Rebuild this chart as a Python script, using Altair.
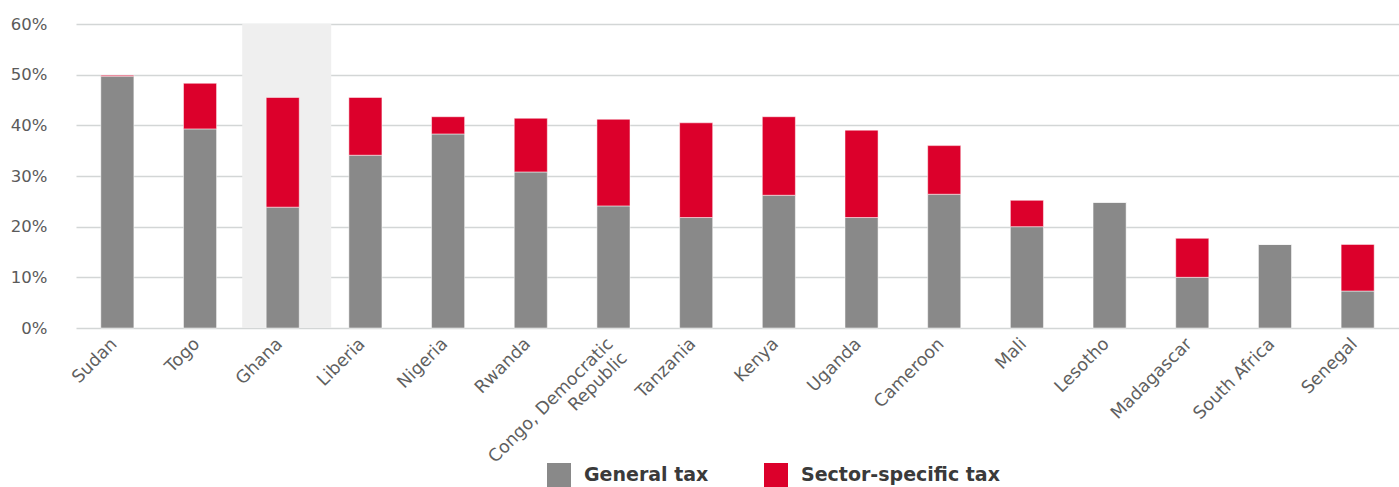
import altair as alt
import pandas as pd

countries = ["Sudan", "Togo", "Ghana", "Liberia", "Nigeria", "Rwanda",
             "Congo, Democratic Republic", "Tanzania", "Kenya", "Uganda",
             "Cameroon", "Mali", "Lesotho", "Madagascar", "South Africa", "Senegal"]
general_tax = [49.7, 39.3, 23.85, 34.1, 38.3, 30.8, 24.1, 21.8, 26.2, 21.8,
               26.4, 20.0, 24.8, 10.0, 16.5, 7.3]
sector_tax = [0.2, 9.0, 21.65, 11.4, 3.4, 10.6, 17.1, 18.7, 15.5, 17.25,
              9.6, 5.2, 0.0, 7.7, 0.0, 9.2]
series = ["General tax", "Sector-specific tax"]
colors = ["#898989", "#DC002B"]
highlight = ["Ghana"]

rows = []
for c, g, s in zip(countries, general_tax, sector_tax):
    rows.append({"country": c, "series": series[0], "value": g, "ord": 0})
    rows.append({"country": c, "series": series[1], "value": s, "ord": 1})
df = pd.DataFrame(rows)
hl = pd.DataFrame({"country": highlight, "top": [60], "bottom": [0]})

FONT = "DejaVu Sans"

x_enc = alt.X("country:N", sort=countries, title=None,
              scale=alt.Scale(paddingInner=0.6, paddingOuter=0.3),
              axis=alt.Axis(labelAngle=-45, labelAlign="right", labelBaseline="middle",
                            labelFontSize=17.5, labelColor="#5f5f5f", labelFont=FONT,
                            labelPadding=13, labelOffset=-3, ticks=False, domain=False, grid=False,
                            labelLimit=0, labelLineHeight=20,
                            labelExpr="datum.label == 'Congo, Democratic Republic' ? ['Congo, Democratic', 'Republic'] : datum.label"))

band = alt.Chart(hl).mark_bar(color="#efefef", xOffset=4, width=89).encode(
    x=x_enc,
    y=alt.Y("top:Q", scale=alt.Scale(domain=[0, 60])),
    y2="bottom:Q",
)

bars = alt.Chart(df).mark_bar(stroke="white", strokeWidth=1, strokeOpacity=0.5).encode(
    x=x_enc,
    y=alt.Y("sum(value):Q", title=None, stack="zero",
            scale=alt.Scale(domain=[0, 60], nice=False),
            axis=alt.Axis(values=[0, 10, 20, 30, 40, 50, 60], labelExpr="datum.value + '%'",
                          labelFontSize=16.5, labelColor="#5a5a5a", labelFont=FONT,
                          labelPadding=29, ticks=False, domain=False,
                          gridColor="#d3d6d6", gridWidth=1.5)),
    color=alt.Color("series:N", scale=alt.Scale(domain=series, range=colors),
                    legend=alt.Legend(title=None, orient="none", legendX=471, legendY=439,
                                      direction="horizontal", symbolType="square",
                                      symbolSize=576, symbolStrokeWidth=0, symbolOpacity=1,
                                      labelFontSize=19, labelFontWeight="bold",
                                      labelColor="#3a3a3a", labelFont=FONT, labelLimit=0,
                                      labelOffset=13, columnPadding=55, padding=0)),
    order=alt.Order("ord:Q"),
)

chart = alt.layer(band, bars).properties(
    width=1323, height=304,
    autosize=alt.AutoSizeParams(type="none"),
    padding={"left": 76, "top": 24, "right": 0, "bottom": 159},
).configure_view(stroke=None).configure_axis(gridColor="#d3d6d6")

chart.save("out.html", embed_options={"renderer": "svg", "actions": False})
